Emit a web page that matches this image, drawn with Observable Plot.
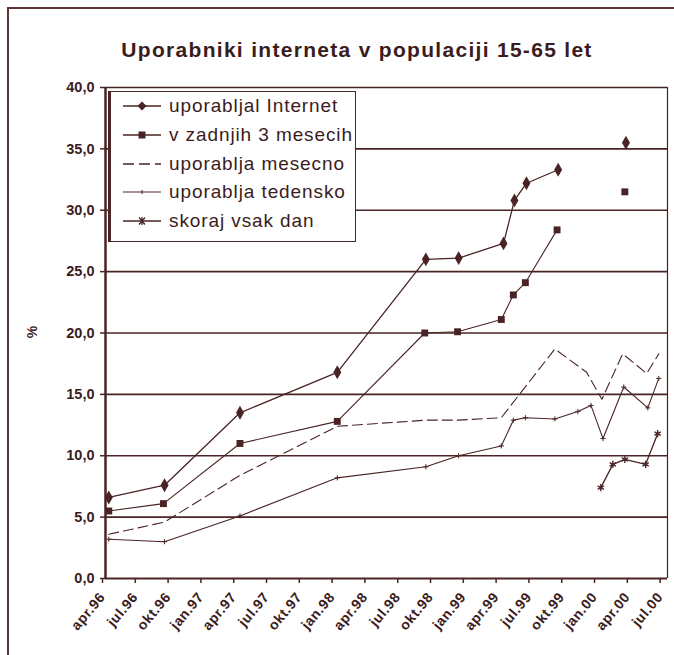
<!DOCTYPE html>
<html><head><meta charset="utf-8">
<script src="https://cdn.jsdelivr.net/npm/d3@7"></script>
<script src="https://cdn.jsdelivr.net/npm/@observablehq/plot@0.6"></script>
<style>
body{margin:0;background:#fff;}
#wrap{position:relative;width:674px;height:655px;overflow:hidden;background:#fff;font-family:"Liberation Sans",Arial,sans-serif;color:#3b1c1c;}
#frame{position:absolute;left:7px;top:7px;width:700px;height:700px;border-left:2px solid #5b3434;border-top:2px solid #5b3434;}
#title{position:absolute;left:20px;width:674px;top:38px;text-align:center;font-weight:bold;font-size:21px;letter-spacing:1.3px;}
#chart{position:absolute;left:0;top:60px;}
#ylab{position:absolute;left:22px;top:324px;width:20px;text-align:center;font-weight:bold;font-size:14px;transform:rotate(-90deg);}
#legend{position:absolute;left:108px;top:91px;width:248px;height:151px;background:#fff;border:1.5px solid #4a2626;border-left:3px solid #4a2626;box-sizing:border-box;}
.row{position:absolute;left:10px;height:26px;display:flex;align-items:center;font-size:19px;letter-spacing:0.9px;white-space:nowrap;}
.row svg{margin-right:6px;}
</style></head>
<body>
<div id="wrap">
  <div id="frame"></div>
  <div id="title">Uporabniki interneta v populaciji 15-65 let</div>
  <div id="chart"></div>
  <div id="ylab">%</div>
  <div id="legend"></div>
</div>
<script>
// ---- data (x = months since April 1996) ----
const seriesNames = ["uporabljal Internet", "v zadnjih 3 mesecih", "uporablja mesecno", "uporablja tedensko", "skoraj vsak dan"];

const internetM = [0.3, 5.4, 12.3, 21.2, 29.3, 32.3, 36.4, 37.4, 38.5, 41.4, 45.0, 47.6];
const internetV = [6.6, 7.6, 13.5, 16.8, 26.0, 26.1, 27.3, 30.8, 32.2, 33.3, null, 35.5];

const threeMonthsM = [0.3, 5.3, 12.3, 21.2, 29.2, 32.2, 36.2, 37.3, 38.4, 41.3, 45.0, 47.5];
const threeMonthsV = [5.5, 6.1, 11.0, 12.8, 20.0, 20.1, 21.1, 23.1, 24.1, 28.4, null, 31.5];

const monthlyM = [0.3, 5.4, 12.3, 21.2, 29.3, 32.3, 36.2, 41.1, 44.0, 45.4, 47.3, 49.5, 50.6];
const monthlyV = [3.6, 4.6, 8.4, 12.4, 12.9, 12.9, 13.1, 18.7, 16.8, 14.6, 18.3, 16.7, 18.3];

const weeklyM = [0.3, 5.4, 12.3, 21.2, 29.3, 32.3, 36.2, 37.3, 38.4, 41.1, 43.2, 44.4, 45.5, 47.4, 49.6, 50.6];
const weeklyV = [3.2, 3.0, 5.1, 8.2, 9.1, 10.0, 10.8, 12.9, 13.1, 13.0, 13.6, 14.1, 11.4, 15.6, 13.9, 16.3];

const dailyM = [45.3, 46.4, 47.5, 49.4, 50.5];
const dailyV = [7.4, 9.3, 9.7, 9.3, 11.8];

const xTickMonths = [0, 3, 6, 9, 12, 15, 18, 21, 24, 27, 30, 33, 36, 39, 42, 45, 48, 51];
const xTickLabels = ["apr.96","jul.96","okt.96","jan.97","apr.97","jul.97","okt.97","jan.98","apr.98","jul.98","okt.98","jan.99","apr.99","jul.99","okt.99","jan.00","apr.00","jul.00"];
const yTicks = [0, 5, 10, 15, 20, 25, 30, 35, 40];
const yTickLabels = ["0,0","5,0","10,0","15,0","20,0","25,0","30,0","35,0","40,0"];

// ---- build tables ----
const toRows = (ms, vs) => ms.map((m, i) => ({m, v: vs[i]}));
const internet = toRows(internetM, internetV);
const threeMonths = toRows(threeMonthsM, threeMonthsV);
const monthly = toRows(monthlyM, monthlyV);
const weekly = toRows(weeklyM, weeklyV);
const daily = toRows(dailyM, dailyV);

const C = "#4a2424";
const T = "#3b1c1c";

const chart = Plot.plot({
  width: 674,
  height: 595,
  marginLeft: 105,
  marginRight: 7,
  marginTop: 27,
  marginBottom: 77,
  style: {background: "transparent", color: T, fontFamily: "'Liberation Sans', Arial, sans-serif"},
  x: {type: "linear", domain: [0, 51.4]},
  y: {type: "linear", domain: [0, 40]},
  marks: [
    Plot.ruleY(yTicks.slice(1), {stroke: C, strokeWidth: 1.6}),
    Plot.ruleX([51.4], {stroke: C, strokeWidth: 1.2}),
    Plot.axisY({ticks: yTicks, tickFormat: d => yTickLabels[yTicks.indexOf(d)], tickSize: 5, tickPadding: 6,
      fontSize: 14.5, fontWeight: "bold", stroke: C, strokeWidth: 1.5, label: null}),
    Plot.axisX({ticks: xTickMonths, tickFormat: d => xTickLabels[xTickMonths.indexOf(d)], tickRotate: -50,
      tickSize: 5, tickPadding: 11, dx: -3, fontSize: 14, fontWeight: "bold", stroke: C, strokeWidth: 1.5, label: null}),
    Plot.ruleY([0], {stroke: C, strokeWidth: 2}),
    Plot.ruleX([0], {stroke: C, strokeWidth: 2.5}),
    // series
    Plot.line(monthly, {x: "m", y: "v", stroke: C, strokeWidth: 1.1, strokeDasharray: "10,5"}),
    Plot.line(weekly, {x: "m", y: "v", stroke: C, strokeWidth: 1.1}),
    Plot.dot(weekly, {x: "m", y: "v", symbol: "plus", r: 1.8, stroke: C, strokeWidth: 1}),
    Plot.line(threeMonths, {x: "m", y: "v", stroke: C, strokeWidth: 1.1}),
    Plot.dot(threeMonths, {x: "m", y: "v", symbol: "square", r: 3.9, fill: C, stroke: "none"}),
    Plot.line(internet, {x: "m", y: "v", stroke: C, strokeWidth: 1.3}),
    Plot.dot(internet, {x: "m", y: "v", symbol: "diamond", r: 4.2, fill: C, stroke: "none"}),
    Plot.line(daily, {x: "m", y: "v", stroke: C, strokeWidth: 1.3}),
    Plot.dot(daily, {x: "m", y: "v", symbol: "asterisk", r: 3.4, stroke: C, strokeWidth: 1.4})
  ]
});
chart.querySelectorAll("g[aria-label='x-axis tick label'] text").forEach(t => t.setAttribute("letter-spacing", "0.6"));
document.getElementById("chart").appendChild(chart);

// ---- legend ----
const legend = document.getElementById("legend");
const samples = [
  '<line x1="2" y1="8" x2="40" y2="8" stroke="'+C+'" stroke-width="1.4"/><path d="M21 3.5 L25.5 8 L21 12.5 L16.5 8Z" fill="'+C+'"/>',
  '<line x1="2" y1="8" x2="40" y2="8" stroke="'+C+'" stroke-width="1.4"/><rect x="17.5" y="4.5" width="7" height="7" fill="'+C+'"/>',
  '<line x1="2" y1="8" x2="40" y2="8" stroke="'+C+'" stroke-width="1.3" stroke-dasharray="11,5"/>',
  '<line x1="2" y1="8" x2="40" y2="8" stroke="'+C+'" stroke-width="1.1"/><path d="M21 6 V10" stroke="'+C+'" stroke-width="1"/>',
  '<line x1="2" y1="8" x2="40" y2="8" stroke="'+C+'" stroke-width="1.3"/><path d="M18 4.5 L24 11.5 M24 4.5 L18 11.5 M21 4 V12" stroke="'+C+'" stroke-width="1.3"/>'
];
seriesNames.forEach((name, i) => {
  const row = document.createElement("div");
  row.className = "row";
  row.style.top = (1 + i * 28.8) + "px";
  row.innerHTML = '<svg width="42" height="16">' + samples[i] + '</svg><span>' + name + '</span>';
  legend.appendChild(row);
});
</script>
</body></html>
